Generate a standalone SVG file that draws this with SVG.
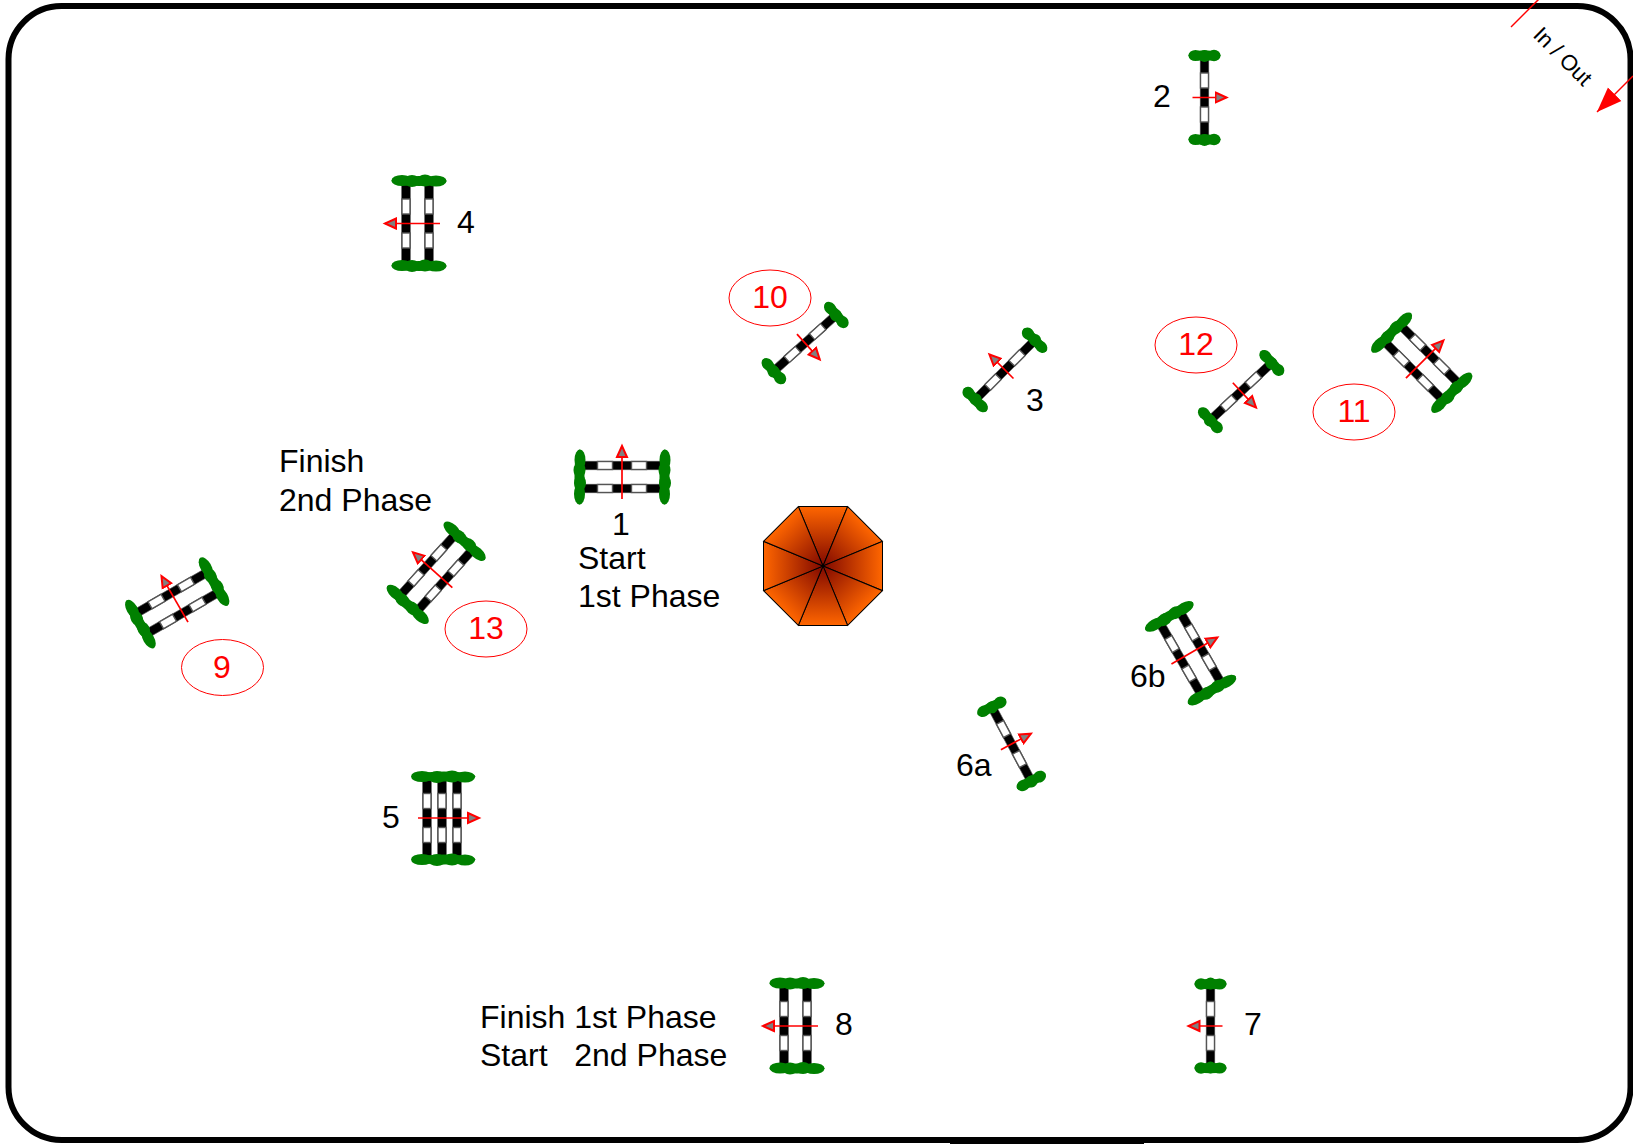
<svg xmlns="http://www.w3.org/2000/svg" xmlns:xlink="http://www.w3.org/1999/xlink" width="1633" height="1144" viewBox="0 0 1633 1144">
<style>
text{font-family:"Liberation Sans",Arial,sans-serif;font-size:32px;fill:#000;white-space:pre}
.r{fill:#f00}
.c{fill:none;stroke:#f00;stroke-width:1}
.h{fill:#008000}
.rail{fill:#000;stroke:#555;stroke-width:.6}
.w{fill:#fff;stroke:#555;stroke-width:1.400}
.a{stroke:#f00;stroke-width:1.700;fill:none;marker-end:url(#head)}
.t{stroke:#000;stroke-width:1}
</style>
<defs>
<linearGradient id="g" gradientUnits="userSpaceOnUse" x1="0" y1="0" x2="0" y2="-59.5">
<stop offset="0" stop-color="#800800"/><stop offset="1" stop-color="#ff6600"/>
</linearGradient>
<marker id="head" markerUnits="userSpaceOnUse" markerWidth="16" markerHeight="14" refX="12" refY="7" orient="auto" viewBox="0 0 16 14">
<path d="M1 2L12 7L1 12Z" fill="#808080" stroke="#f00" stroke-width="2"/>
</marker>
<marker id="big" markerUnits="userSpaceOnUse" markerWidth="26" markerHeight="22" refX="25" refY="11" orient="auto" viewBox="0 0 26 22">
<path d="M0 1.500L25 11L0 20.500Z" fill="#f00"/>
</marker>
<g id="rail"><rect class="rail" x="-4.300" y="-39" width="8.600" height="78"/><rect class="w" x="-4" y="-24.500" width="8" height="15"/><rect class="w" x="-4" y="9.500" width="8" height="15"/></g>
<g id="hs"><ellipse class="h" cx="0" cy="0" rx="16" ry="5.200"/><ellipse class="h" cx="-9" cy="0" rx="7" ry="5.500"/><ellipse class="h" cx="0" cy="0.500" rx="6" ry="6"/><ellipse class="h" cx="9.500" cy="0" rx="6.500" ry="5.800"/></g>
<g id="hd"><ellipse class="h" cx="0" cy="0" rx="27.500" ry="5"/><ellipse class="h" cx="-17" cy="0" rx="10.500" ry="5.500"/><ellipse class="h" cx="-6" cy="0.500" rx="8" ry="6"/><ellipse class="h" cx="7" cy="0" rx="8" ry="6"/><ellipse class="h" cx="17" cy="0.500" rx="10.500" ry="5.500"/></g>
<g id="ht"><ellipse class="h" cx="2" cy="0" rx="31.500" ry="5"/><ellipse class="h" cx="-20" cy="0" rx="11" ry="5.500"/><ellipse class="h" cx="-5" cy="0.500" rx="9" ry="6"/><ellipse class="h" cx="10" cy="0" rx="9" ry="6"/><ellipse class="h" cx="23" cy="0.500" rx="10" ry="5.500"/></g>
<g id="j1"><use xlink:href="#rail"/><use xlink:href="#hs" y="-42"/><use xlink:href="#hs" y="42"/><line class="a" x1="-12" y1="0" x2="22" y2="0"/></g>
<g id="j2"><use xlink:href="#rail" x="-11.500"/><use xlink:href="#rail" x="11.500"/><use xlink:href="#hd" y="-42.500"/><use xlink:href="#hd" y="42.500"/><line class="a" x1="-22" y1="0" x2="31" y2="0"/></g>
<g id="j2l"><use xlink:href="#rail" x="-10"/><use xlink:href="#rail" x="13"/><use xlink:href="#hd" y="-42.500"/><use xlink:href="#hd" y="42.500"/><line class="a" x1="-21" y1="0" x2="34" y2="0"/></g>
<g id="j3"><use xlink:href="#rail" x="-15"/><use xlink:href="#rail"/><use xlink:href="#rail" x="15"/><use xlink:href="#ht" y="-41.500"/><use xlink:href="#ht" y="41.500"/><line class="a" x1="-24" y1="0" x2="37" y2="0"/></g>
<polygon id="tri" points="0,0 -24.600,-59.500 24.600,-59.500" fill="url(#g)" class="t"/>
</defs>
<g id="arena"><rect x="8.500" y="6" width="1622" height="1134" rx="53" ry="53" fill="#fff" stroke="#000" stroke-width="6"/><rect x="950" y="1142" width="194" height="2" fill="#000"/></g>
<g id="connectors">
<line x1="1511" y1="27" x2="1539" y2="-1" stroke="#f00" stroke-width="1.500"/>
<line x1="1633" y1="76" x2="1597" y2="112" stroke="#f00" stroke-width="1.500" marker-end="url(#big)"/>
</g>
<g id="in-out"><text transform="translate(1532,36) rotate(45)" style="font-size:22px">In / Out</text></g>
<g id="jump-1"><use xlink:href="#j2" transform="translate(622,477) rotate(-90)"/><text x="621" y="535" text-anchor="middle">1</text><text x="578" y="569">Start</text><text x="578" y="607">1st Phase</text></g>
<g id="jump-2"><use xlink:href="#j1" transform="translate(1204.500,97.500)"/><text x="1153" y="107">2</text></g>
<g id="jump-3"><use xlink:href="#j1" transform="translate(1005,370) rotate(-135)"/><text x="1026" y="411">3</text></g>
<g id="jump-4"><use xlink:href="#j2l" transform="translate(419,223.500) rotate(180)"/><text x="457" y="233">4</text></g>
<g id="jump-5"><use xlink:href="#j3" transform="translate(442,818)"/><text x="382" y="828">5</text></g>
<g id="jump-6a"><use xlink:href="#j1" transform="translate(1011.500,744) rotate(-28)"/><text x="956" y="776">6a</text></g>
<g id="jump-6b"><use xlink:href="#j2" transform="translate(1190.500,653) rotate(-30)"/><text x="1130" y="687">6b</text></g>
<g id="jump-7"><use xlink:href="#j1" transform="translate(1210.500,1026) rotate(180)"/><text x="1244" y="1035">7</text></g>
<g id="jump-8"><use xlink:href="#j2l" transform="translate(797,1026) rotate(180)"/><text x="835" y="1035">8</text><text x="480" y="1028">Finish 1st Phase</text><text x="480" y="1066">Start   2nd Phase</text></g>
<g id="jump-9"><use xlink:href="#j2" transform="translate(177,603) rotate(-120)"/><ellipse class="c" cx="222.500" cy="667.500" rx="41" ry="28"/><text class="r" x="222" y="678" text-anchor="middle">9</text></g>
<g id="jump-10"><use xlink:href="#j1" transform="translate(805,343) rotate(48)"/><ellipse class="c" cx="770" cy="298" rx="41" ry="28"/><text class="r" x="770" y="308" text-anchor="middle">10</text></g>
<g id="jump-11"><use xlink:href="#j2" transform="translate(1421.500,362.500) rotate(-45)"/><ellipse class="c" cx="1354" cy="412" rx="41" ry="28"/><text class="r" x="1354" y="422" text-anchor="middle">11</text></g>
<g id="jump-12"><use xlink:href="#j1" transform="translate(1241,391.500) rotate(47)"/><ellipse class="c" cx="1196" cy="345" rx="41" ry="28"/><text class="r" x="1196" y="355" text-anchor="middle">12</text></g>
<g id="jump-13"><use xlink:href="#j2" transform="translate(436,573) rotate(-138)"/><ellipse class="c" cx="486" cy="629" rx="41" ry="28"/><text class="r" x="486" y="639" text-anchor="middle">13</text></g>
<g id="finish-label"><text x="279" y="472">Finish</text><text x="279" y="511">2nd Phase</text></g>
<g id="gazebo" transform="translate(823,566)">
<use xlink:href="#tri"/><use xlink:href="#tri" transform="rotate(45)"/><use xlink:href="#tri" transform="rotate(90)"/><use xlink:href="#tri" transform="rotate(135)"/><use xlink:href="#tri" transform="rotate(180)"/><use xlink:href="#tri" transform="rotate(225)"/><use xlink:href="#tri" transform="rotate(270)"/><use xlink:href="#tri" transform="rotate(315)"/>
</g>
</svg>
